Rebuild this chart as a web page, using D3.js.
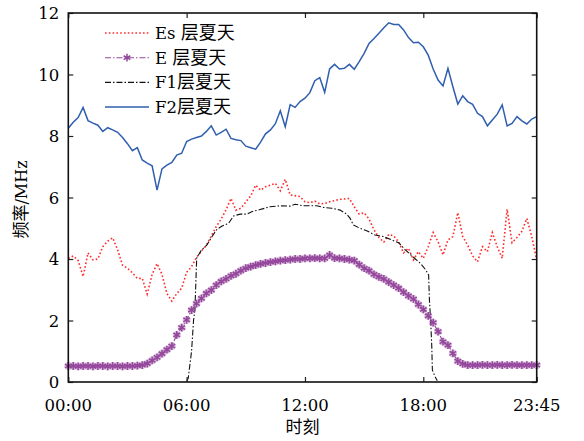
<!DOCTYPE html>
<html>
<head>
<meta charset="utf-8">
<script src="https://cdn.jsdelivr.net/npm/d3@7"></script>
<style>
  body { margin: 0; background: #fff; }
  text { font-family: "DejaVu Serif", "Noto Sans CJK SC", serif; }
</style>
</head>
<body>
<script>
// 15-minute samples, 00:00 .. 23:45 (index -> hours = i / 4)
var esValues = [4.02, 4.1, 3.95, 3.43, 4.2, 3.97, 4.0, 4.4, 4.58, 4.69, 4.3, 3.8, 3.7, 3.55, 3.37, 3.37,
  2.86, 3.5, 3.85, 3.5, 2.88, 2.63, 2.88, 3.05, 3.57, 3.75, 4.05, 4.25, 4.45, 4.75, 5.05, 5.3,
  5.6, 5.97, 5.59, 5.65, 5.85, 6.05, 6.4, 6.24, 6.35, 6.4, 6.46, 6.22, 6.59, 6.08, 6.06, 6.03,
  5.86, 5.83, 5.88, 5.79, 5.81, 5.86, 5.9, 5.94, 5.95, 5.97, 5.7, 5.46, 5.5, 5.3, 4.95, 4.7,
  4.55, 4.8, 4.75, 4.56, 4.2, 4.35, 3.97, 4.24, 4.02, 4.4, 4.86, 4.56, 4.13, 4.62, 4.73, 5.51,
  4.73, 4.45, 4.1, 3.91, 4.4, 4.24, 4.86, 4.4, 4.02, 5.62, 4.53, 4.7, 4.9, 5.32, 4.73, 3.97];

var eValues = [0.52, 0.52, 0.51, 0.52, 0.52, 0.51, 0.52, 0.52, 0.51, 0.52, 0.52, 0.51, 0.52, 0.52, 0.53, 0.55,
  0.6, 0.7, 0.8, 0.92, 1.05, 1.17, 1.53, 1.77, 2.02, 2.34, 2.55, 2.72, 2.88, 2.99, 3.15, 3.27,
  3.35, 3.45, 3.52, 3.62, 3.7, 3.75, 3.8, 3.84, 3.87, 3.9, 3.92, 3.95, 3.96, 3.98, 4.0, 4.0,
  4.02, 4.02, 4.03, 4.02, 4.02, 4.13, 4.03, 4.02, 4.0, 3.98, 3.95, 3.82, 3.7, 3.62, 3.5, 3.42,
  3.35, 3.25, 3.15, 3.05, 2.92, 2.8, 2.7, 2.52, 2.36, 2.15, 1.93, 1.64, 1.31, 1.2, 0.93, 0.68,
  0.59, 0.55, 0.55, 0.55, 0.56, 0.55, 0.55, 0.56, 0.55, 0.55, 0.56, 0.55, 0.55, 0.55, 0.55, 0.55];

var f2Values = [8.25, 8.45, 8.6, 8.93, 8.5, 8.42, 8.35, 8.15, 8.27, 8.2, 8.12, 7.95, 7.75, 7.52, 7.62, 7.22,
  7.12, 7.03, 6.24, 6.93, 7.05, 7.14, 7.38, 7.44, 7.82, 7.9, 7.95, 8.0, 8.15, 8.33, 8.03, 8.12,
  8.22, 7.92, 7.88, 7.85, 7.67, 7.62, 7.57, 7.8, 8.07, 8.2, 8.4, 8.82, 8.3, 9.02, 8.93, 9.12,
  9.23, 9.41, 9.8, 9.9, 9.42, 10.18, 10.33, 10.18, 10.2, 10.33, 10.17, 10.42, 10.69, 11.01, 11.17, 11.34,
  11.52, 11.68, 11.63, 11.63, 11.45, 11.2, 11.03, 11.05, 10.9, 10.63, 10.18, 9.82, 9.63, 10.2, 9.6, 9.04,
  9.31, 9.12, 9.03, 8.74, 8.63, 8.33, 8.52, 8.71, 9.01, 8.33, 8.41, 8.63, 8.49, 8.39, 8.55, 8.63];

// F1 layer only exists in daytime; its own time stamps (hours)
var f1Hours = [6.0, 6.08, 6.25, 6.35, 6.42, 6.51, 6.75, 7.03, 7.29, 7.54, 7.8, 8.13, 8.38, 8.72, 9.05, 9.3,
  9.68, 10.23, 10.74, 11.24, 11.5, 11.92, 12.6, 12.93, 13.36, 13.78, 14.12, 14.29, 14.45, 14.79, 15.13, 15.55,
  15.97, 16.4, 16.75, 17.1, 17.53, 17.88, 18.12, 18.27, 18.31, 18.38, 18.43, 18.46, 18.6, 18.71];
var f1Values = [0.04, 0.12, 1.0, 2.0, 2.34, 4.03, 4.29, 4.46, 4.73, 4.97, 5.07, 5.16, 5.4, 5.46, 5.46, 5.54,
  5.6, 5.7, 5.73, 5.72, 5.78, 5.73, 5.73, 5.68, 5.65, 5.59, 5.46, 5.32, 5.11, 5.0, 4.92, 4.78,
  4.73, 4.62, 4.53, 4.29, 4.04, 3.84, 3.65, 3.48, 2.67, 1.91, 1.15, 0.39, 0.17, 0.04];

var xTickHours = [0, 6, 12, 18, 23.75];
var xTickLabels = ["00:00", "06:00", "12:00", "18:00", "23:45"];
var yTicks = [0, 2, 4, 6, 8, 10, 12];

var legendNames = [["Es ", "层夏天"], ["E ", "层夏天"], ["F1", "层夏天"], ["F2", "层夏天"]];

var width = 584, height = 441;
var x0 = 68.3, x1 = 536.7, y0 = 382, y1 = 13;

var x = d3.scaleLinear().domain([0, 23.75]).range([x0, x1]);
var y = d3.scaleLinear().domain([0, 12]).range([y0, y1]);

var svg = d3.select("body").append("svg")
    .attr("width", width)
    .attr("height", height);

var line = d3.line()
    .x(function(d) { return x(d[0]); })
    .y(function(d) { return y(d[1]); });

function quarterPairs(vals) {
  return vals.map(function(v, i) { return [i / 4, v]; });
}

var esData = quarterPairs(esValues);
var eData = quarterPairs(eValues);
var f2Data = quarterPairs(f2Values);
var f1Data = f1Hours.map(function(h, i) { return [h, f1Values[i]]; });

var colors = { es: "#ff2b2b", e: "#94479c", f1: "#111", f2: "#2f5fae" };

// series
svg.append("path").datum(f2Data)
    .attr("d", line).attr("fill", "none")
    .attr("stroke", colors.f2).attr("stroke-width", 1.5);

svg.append("path").datum(esData)
    .attr("d", line).attr("fill", "none")
    .attr("stroke", colors.es).attr("stroke-width", 1.6)
    .attr("stroke-dasharray", "1.6,2.2");

svg.append("path").datum(f1Data)
    .attr("d", line).attr("fill", "none")
    .attr("stroke", colors.f1).attr("stroke-width", 1.1)
    .attr("stroke-dasharray", "6,2,1.5,2");

svg.append("path").datum(eData)
    .attr("d", line).attr("fill", "none")
    .attr("stroke", colors.e).attr("stroke-width", 1.1)
    .attr("stroke-dasharray", "6,2,1.5,2");

var star = d3.symbol().type(d3.symbolAsterisk).size(42);
var marks = svg.append("g");
marks.selectAll(".halo").data(eData).enter().append("path")
    .attr("transform", function(d) { return "translate(" + x(d[0]) + "," + y(d[1]) + ")"; })
    .attr("d", star).attr("fill", "none")
    .attr("stroke", colors.e).attr("stroke-opacity", 0.35).attr("stroke-width", 3.4);
marks.selectAll(".mk").data(eData).enter().append("path")
    .attr("transform", function(d) { return "translate(" + x(d[0]) + "," + y(d[1]) + ")"; })
    .attr("d", star).attr("fill", "none")
    .attr("stroke", colors.e).attr("stroke-width", 1.5);

// axes (ticks inward on all sides)
var tickLen = 5;
svg.append("g").attr("transform", "translate(0," + y0 + ")")
    .call(d3.axisBottom(x).tickValues(xTickHours).tickSize(-tickLen).tickFormat(""))
    .call(function(g) { g.select(".domain").remove(); });
svg.append("g").attr("transform", "translate(0," + y1 + ")")
    .call(d3.axisTop(x).tickValues(xTickHours).tickSize(-tickLen).tickFormat(""))
    .call(function(g) { g.select(".domain").remove(); });
svg.append("g").attr("transform", "translate(" + x0 + ",0)")
    .call(d3.axisLeft(y).tickValues(yTicks).tickSize(-tickLen).tickFormat(""))
    .call(function(g) { g.select(".domain").remove(); });
svg.append("g").attr("transform", "translate(" + x1 + ",0)")
    .call(d3.axisRight(y).tickValues(yTicks).tickSize(-tickLen).tickFormat(""))
    .call(function(g) { g.select(".domain").remove(); });
svg.selectAll(".tick line").attr("stroke", "#222").attr("stroke-width", 1.2);

svg.append("rect")
    .attr("x", x0).attr("y", y1)
    .attr("width", x1 - x0).attr("height", y0 - y1)
    .attr("fill", "none").attr("stroke", "#111").attr("stroke-width", 1.6);

// tick labels
svg.selectAll(".xl").data(xTickHours).enter().append("text")
    .attr("x", function(d) { return x(d); })
    .attr("y", y0 + 29)
    .attr("text-anchor", "middle")
    .style("font-size", "16.5px")
    .text(function(d, i) { return xTickLabels[i]; });

svg.selectAll(".yl").data(yTicks).enter().append("text")
    .attr("x", x0 - 9)
    .attr("y", function(d) { return y(d) + 6; })
    .attr("text-anchor", "end")
    .style("font-size", "16.5px")
    .text(function(d) { return d; });

// axis titles
svg.append("text")
    .attr("x", (x0 + x1) / 2).attr("y", 433)
    .attr("text-anchor", "middle")
    .style("font-family", "'Noto Sans CJK SC'")
    .style("font-size", "17px")
    .text("时刻");

var yt = svg.append("text")
    .attr("transform", "translate(27," + ((y0 + y1) / 2 + 2) + ") rotate(-90)")
    .attr("text-anchor", "middle")
    .style("font-size", "16px");
yt.append("tspan").style("font-family", "'Noto Sans CJK SC'").style("font-size", "17px").text("频率");
yt.append("tspan").text("/MHz");

// legend
var legendStyles = [
  { c: colors.es, w: 1.6, dash: "1.6,2.2", marker: false },
  { c: colors.e, w: 1.1, dash: "6,2,1.5,2", marker: true },
  { c: colors.f1, w: 1.1, dash: "6,2,1.5,2", marker: false },
  { c: colors.f2, w: 1.5, dash: null, marker: false }
];
var lg = svg.append("g");
var rows = lg.selectAll("g").data(legendNames).enter().append("g")
    .attr("transform", function(d, i) { return "translate(0," + (33 + i * 24.7) + ")"; });
rows.append("line")
    .attr("x1", 105).attr("x2", 149)
    .attr("stroke", function(d, i) { return legendStyles[i].c; })
    .attr("stroke-width", function(d, i) { return legendStyles[i].w; })
    .attr("stroke-dasharray", function(d, i) { return legendStyles[i].dash; });
rows.filter(function(d, i) { return legendStyles[i].marker; })
    .append("path")
    .attr("transform", "translate(127,0)")
    .attr("d", star).attr("fill", "none")
    .attr("stroke", colors.e).attr("stroke-width", 1.5);
var lt = rows.append("text")
    .attr("x", 155).attr("y", 6)
    .style("font-size", "16.5px");
lt.append("tspan").text(function(d) { return d[0]; });
lt.append("tspan").style("font-family", "'Noto Sans CJK SC'").style("font-size", "18px")
    .text(function(d) { return d[1]; });
</script>
</body>
</html>
